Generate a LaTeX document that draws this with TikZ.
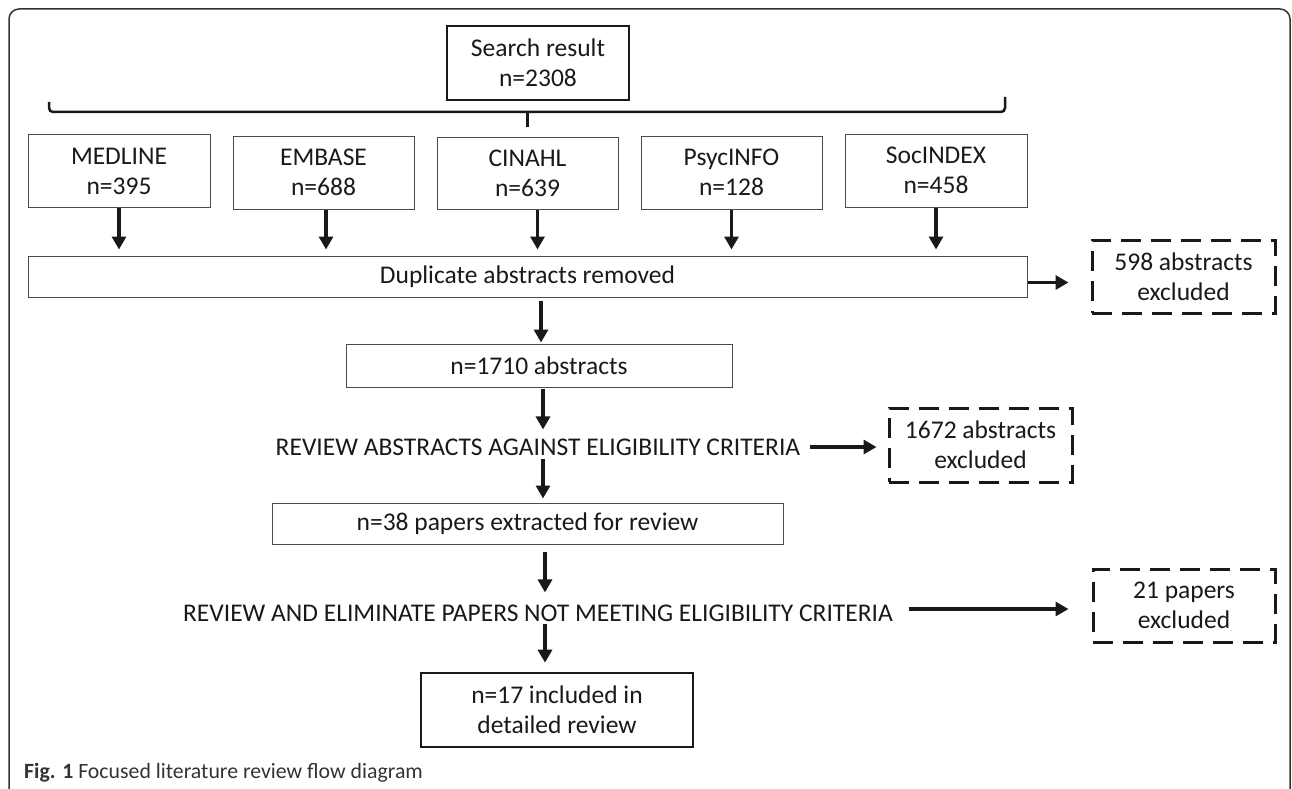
\documentclass[tikz,border=0pt]{standalone}
\usepackage{fontspec}
\setmainfont{Carlito}
\usetikzlibrary{arrows.meta}
\begin{document}
\begin{tikzpicture}[x=1pt,y=-1pt,
  lbl/.style={font=\fontsize{25.5}{30}\selectfont, align=center, text=black!90, inner sep=0pt},
  thinbox/.style={lbl, draw=black!70, line width=1pt},
  thickbox/.style={lbl, draw=black!90, line width=2.6pt},
  dashbox/.style={lbl, draw=black!90, line width=3pt, dash pattern=on 20pt off 10pt},
  arr/.style={draw=black!90, line width=3.2pt, -{Triangle[length=13pt,width=14pt]}},
  bracestyle/.style={draw=black!90, line width=2.5pt, rounded corners=4pt}
]
\useasboundingbox (0,0) rectangle (1292,789);
% outer frame
\draw[line width=1.5pt, draw=black!80, rounded corners=10pt] (9,789) -- (9,9) -- (1290,9) -- (1290,789);

% search result
\node[thickbox, minimum width=182pt, minimum height=74pt] (search) at (538,63) {Search result\\n=2308};

% brace
\coordinate (bl) at (49,102);
\coordinate (br) at (1005,97);
\coordinate (bm) at (527,112);
\coordinate (bt) at (527,127);
\draw[bracestyle] (bl) -- (bl |- bm) -- (br |- bm) -- (br);
\draw[draw=black!90, line width=3pt] (bm) -- (bt);

% sources
\node[thinbox, minimum width=182pt, minimum height=73pt] (medline) at (119,171) {MEDLINE\\n=395};
\node[thinbox, minimum width=181pt, minimum height=73pt] (embase) at (323.5,172.5) {EMBASE\\n=688};
\node[thinbox, minimum width=181pt, minimum height=72pt] (cinahl) at (527.5,173) {CINAHL\\n=639};
\node[thinbox, minimum width=181pt, minimum height=73pt] (psyc) at (731.5,172.5) {PsycINFO\\n=128};
\node[thinbox, minimum width=182pt, minimum height=73pt] (soc) at (936,170.5) {SocINDEX\\n=458};

% duplicate
\node[thinbox, minimum width=999pt, minimum height=41pt] (dup) at (527.5,276.5) {Duplicate abstracts removed};
\node[dashbox, minimum width=183pt, minimum height=73pt] (ex1) at (1183.5,276.5) {598 abstracts\\excluded};

\node[thinbox, minimum width=386pt, minimum height=43pt] (n1710) at (539,365.5) {n=1710 abstracts};
\node[lbl] (rev1) at (538,447) {REVIEW ABSTRACTS AGAINST ELIGIBILITY CRITERIA};
\node[dashbox, minimum width=183pt, minimum height=74pt] (ex2) at (980.5,445) {1672 abstracts\\excluded};

\node[thinbox, minimum width=511pt, minimum height=41pt] (n38) at (527.5,523.5) {n=38 papers extracted for review};
\node[lbl] (rev2) at (538,613) {REVIEW AND ELIMINATE PAPERS NOT MEETING ELIGIBILITY CRITERIA};
\node[dashbox, minimum width=182pt, minimum height=73pt] (ex3) at (1184,605.5) {21 papers\\excluded};

\node[thickbox, minimum width=272pt, minimum height=74pt] (n17) at (557,710) {n=17 included in\\detailed review};

% caption
\node[anchor=west, inner sep=0pt, font=\fontsize{21.8}{24}\selectfont, text=black!80] (cap) at (24,773) {\textbf{Fig. 1} Focused literature review flow diagram};

% arrows from sources
\draw[arr, shorten >=6pt] (medline.south) -- (medline.south |- dup.north);
\draw[arr, shorten >=6pt] ([xshift=2.5pt]embase.south) -- ([xshift=2.5pt]embase.south |- dup.north);
\draw[arr, shorten >=6pt] ([xshift=10pt]cinahl.south) -- ([xshift=10pt]cinahl.south |- dup.north);
\draw[arr, shorten >=6pt] (psyc.south) -- (psyc.south |- dup.north);
\draw[arr, shorten >=6pt] (soc.south) -- (soc.south |- dup.north);

% main column
\coordinate (ax1) at (541,0);
\coordinate (ax2) at (543,0);
\coordinate (ax3) at (545,0);
\draw[arr, shorten <=3pt, shorten >=1pt] (dup.south -| ax1) -- (n1710.north -| ax1);
\draw[arr, shorten <=1pt, shorten >=9pt] (n1710.south -| ax2) -- (rev1.north -| ax2);
\draw[arr, shorten <=3pt, shorten >=4pt] (rev1.south -| ax2) -- (n38.north -| ax2);
\draw[arr, shorten <=7pt, shorten >=12pt] (n38.south -| ax3) -- (rev2.north -| ax3);
\draw[arr, shorten <=2pt, shorten >=9pt] (rev2.south -| ax3) -- (n17.north -| ax3);

% exclusion arrows
\draw[arr, shorten >=22pt] ([yshift=-6pt]dup.east) -- ([yshift=-6pt]dup.east -| ex1.west);
\draw[arr, shorten <=10pt, shorten >=11pt] (rev1.east) -- (rev1.east -| ex2.west);
\draw[arr, shorten <=16pt, shorten >=23pt] ([yshift=4pt]rev2.east) -- ([yshift=4pt]rev2.east -| ex3.west);
\end{tikzpicture}
\end{document}
